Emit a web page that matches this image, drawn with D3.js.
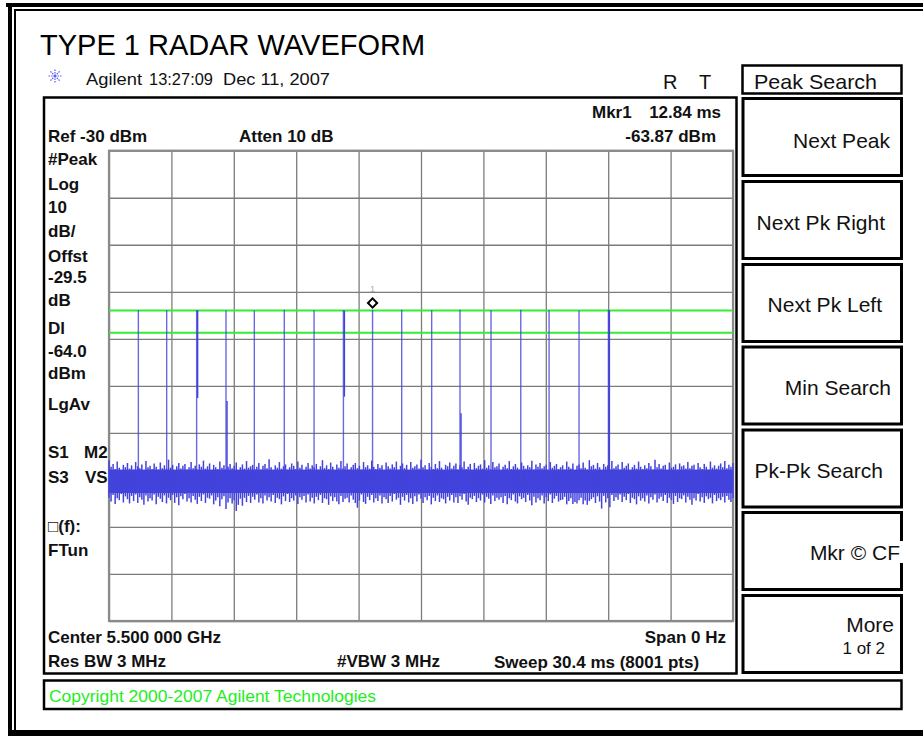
<!DOCTYPE html>
<html><head><meta charset="utf-8">
<script src="https://cdn.jsdelivr.net/npm/d3@7/dist/d3.min.js"></script>
<style>
html,body{margin:0;padding:0;background:#fff;}
svg{display:block;}
text{font-family:"Liberation Sans",Arial,Helvetica,sans-serif;}
</style>
</head><body>
<svg id="c" width="923" height="736"></svg>
<script>
// ---------------- DATA ----------------
const sweepMs = 30.4;                    // x span (ms)
const refLevel = -30, dbPerDiv = 10;     // y scale
const gridTimes = [0, 3.04, 6.08, 9.12, 12.16, 15.2, 18.24, 21.28, 24.32, 27.36, 30.4];
const gridLevels = [-30, -40, -50, -60, -70, -80, -90, -100, -110, -120, -130];
const displayLines = [-64.0, -68.7];

// radar pulses (time ms, peak dBm)
const pulseTimes = [1.43, 2.81, 4.27, 5.70, 7.08, 8.54, 9.99, 11.42, 12.84, 14.26, 15.72, 17.10, 18.61, 20.06, 21.44, 22.90, 24.33];
const pulsePeaks = [-63.9, -63.9, -63.9, -64.0, -64.0, -63.8, -63.9, -63.9, -63.87, -63.8, -63.9, -63.8, -63.9, -63.8, -63.9, -64.0, -63.8];
// second (adjacent) trace column of the wider pulses: upper / lower dBm
const pulseWideHi = [null, null, -63.9, -83.2, null, null, null, -64.0, null, null, null, -85.8, null, null, null, null, -63.9];
const pulseWideLo = [null, null, -82.6, -100.3, null, null, null, -82.3, null, null, null, -100.3, null, null, null, null, -100.3];

// noise floor
const noiseCenter = -100.3;
const noiseBody = [-97.8, -102.8];
const noiseStep = 0.1; // ms between envelope readings
const noiseHi = [
-95.8,-97.2,-96.6,-97.7,-96.1,-97.4,-97.9,-96.8,-97.3,-96.4,
-97.6,-96.9,-97.8,-96.2,-97.1,-97.5,-96.7,-97.9,-96.0,-97.3,
-97.0,-97.7,-96.5,-97.2,-97.8,-96.3,-97.5,-96.9,-97.6,-95.7,
-97.4,-96.8,-97.9,-97.1,-96.4,-97.6,-97.0,-96.6,-97.8,-97.3,
-96.2,-97.5,-97.0,-97.8,-96.7,-97.2,-95.9,-97.6,-97.1,-96.5,
-97.9,-96.8,-97.3,-97.7,-96.1,-97.4,-96.9,-97.8,-97.2,-96.6,
-97.5,-97.0,-96.3,-97.9,-97.3,-96.7,-97.6,-96.0,-97.4,-97.1,
-96.8,-97.7,-97.2,-96.4,-97.8,-97.0,-96.6,-97.5,-95.6,-97.3,
-97.9,-96.9,-97.4,-96.2,-97.6,-97.1,-96.7,-97.8,-97.3,-96.5,
-97.0,-97.7,-96.1,-97.4,-96.8,-97.9,-97.2,-96.4,-97.6,-96.9,
-97.3,-96.6,-97.8,-97.1,-95.8,-97.5,-96.9,-97.7,-96.3,-97.2,
-97.9,-96.7,-97.4,-96.0,-97.6,-97.1,-96.5,-97.8,-97.3,-96.8,
-96.4,-97.5,-97.0,-97.8,-96.2,-97.3,-96.9,-97.6,-95.9,-97.2,
-97.7,-96.6,-97.4,-96.9,-97.9,-96.3,-97.1,-97.6,-96.7,-97.3,
-96.1,-97.8,-97.0,-96.5,-97.5,-96.8,-97.9,-96.2,-97.4,-97.1,
-96.7,-97.6,-95.7,-97.3,-96.9,-97.8,-96.4,-97.2,-97.7,-96.6,
-97.5,-96.0,-97.4,-97.9,-96.8,-97.1,-96.3,-97.6,-97.0,-96.5,
-97.8,-96.9,-97.3,-96.1,-97.7,-97.2,-96.6,-97.9,-96.4,-97.5,
-97.0,-96.7,-97.6,-95.8,-97.4,-96.9,-97.8,-96.2,-97.3,-97.1,
-96.5,-97.9,-97.2,-96.8,-97.5,-96.0,-97.7,-97.1,-96.6,-97.4,
-97.8,-96.3,-97.0,-97.6,-96.9,-97.3,-95.9,-97.8,-96.7,-97.2,
-96.4,-97.5,-97.1,-96.8,-97.9,-96.2,-97.4,-97.0,-96.6,-97.7,
-97.3,-96.9,-97.8,-96.1,-97.2,-97.6,-96.5,-97.9,-97.0,-96.7,
-97.5,-96.3,-97.4,-97.8,-95.8,-97.1,-96.8,-97.6,-96.4,-97.3,
-97.9,-96.6,-97.2,-96.9,-97.7,-96.0,-97.5,-97.1,-96.7,-97.8,
-96.2,-97.4,-97.0,-96.5,-97.9,-97.3,-96.8,-97.6,-96.1,-97.2,
-97.7,-96.9,-97.5,-96.4,-97.1,-97.8,-95.7,-97.3,-96.6,-97.6,
-97.0,-96.8,-97.9,-96.3,-97.4,-97.2,-96.7,-97.8,-96.5,-97.1,
-96.9,-97.6,-96.2,-97.5,-97.0,-96.8,-97.9,-96.4,-97.3,-97.7,
-96.6,-97.2,-97.8,-96.1,-97.4,-96.9,-97.6,-97.0,-96.5,-97.3,
-96.0,-97.5,-96.8,-97.2,-96.4];
const noiseLo = [
-103.8,-104.6,-103.2,-105.1,-103.9,-104.3,-103.0,-104.8,-103.5,-104.1,
-105.0,-103.4,-104.5,-103.1,-104.9,-103.7,-104.2,-105.3,-103.3,-104.6,
-103.9,-104.4,-103.1,-105.2,-103.6,-104.0,-104.7,-103.3,-105.0,-103.8,
-104.3,-103.2,-104.9,-103.7,-105.4,-103.5,-104.1,-103.0,-104.6,-103.9,
-104.8,-103.4,-104.2,-105.1,-103.6,-104.5,-103.1,-104.9,-103.8,-104.0,
-103.3,-105.2,-104.4,-103.7,-105.6,-104.1,-103.5,-106.2,-104.8,-103.9,
-105.0,-104.3,-106.6,-105.3,-104.0,-105.5,-103.8,-104.7,-103.4,-104.9,
-103.6,-104.2,-103.1,-104.8,-103.9,-105.0,-103.3,-104.4,-103.7,-104.6,
-103.2,-104.9,-103.8,-104.1,-105.2,-103.5,-104.5,-103.0,-104.7,-103.9,
-104.4,-103.3,-105.1,-103.7,-104.2,-103.4,-104.8,-103.1,-104.6,-103.8,
-105.0,-103.6,-104.3,-103.2,-104.9,-103.9,-104.1,-105.3,-103.5,-104.5,
-103.7,-104.6,-105.2,-103.4,-104.7,-104.0,-103.8,-104.8,-103.3,-104.2,
-104.9,-105.9,-104.4,-103.1,-104.7,-105.1,-103.6,-104.3,-103.2,-104.8,
-103.9,-104.5,-103.3,-105.0,-103.7,-104.1,-104.9,-103.4,-104.6,-103.0,
-104.2,-103.8,-105.3,-103.6,-104.4,-103.2,-104.8,-103.9,-105.1,-103.5,
-104.6,-103.1,-104.0,-104.9,-103.7,-104.3,-103.4,-105.2,-103.8,-104.5,
-103.3,-104.7,-103.9,-104.1,-105.0,-103.6,-104.4,-103.2,-104.8,-103.7,
-104.9,-103.5,-104.2,-103.0,-104.6,-105.3,-103.8,-104.1,-103.4,-104.7,
-103.9,-104.4,-103.1,-104.8,-103.6,-104.0,-105.1,-103.3,-104.5,-103.8,
-104.2,-103.7,-104.9,-103.4,-105.2,-103.9,-104.3,-103.1,-104.6,-105.0,
-103.5,-104.1,-103.8,-104.7,-103.2,-104.4,-105.4,-103.6,-104.8,-103.9,
-104.3,-103.3,-105.0,-103.7,-104.5,-103.1,-104.9,-104.0,-103.4,-104.6,
-104.3,-104.2,-103.6,-105.2,-104.5,-103.9,-105.1,-104.7,-105.0,-104.3,
-103.8,-105.2,-104.4,-105.3,-104.5,-104.1,-103.7,-104.9,-103.5,-104.6,
-106.1,-103.4,-104.8,-103.9,-105.8,-103.2,-104.5,-103.7,-104.2,-103.1,
-104.7,-103.6,-104.3,-103.0,-104.9,-103.8,-104.1,-105.2,-103.5,-104.4,
-103.9,-104.6,-103.3,-105.0,-103.7,-104.2,-103.1,-104.8,-104.0,-103.6,
-104.5,-103.2,-104.9,-103.8,-104.3,-105.1,-103.4,-104.7,-103.9,-104.1,
-103.3,-104.8,-103.6,-104.2,-105.3,-103.9,-104.4,-103.0,-104.6,-103.7,
-104.9,-103.5,-104.1,-103.8,-105.0,-103.2,-104.5,-103.9,-104.3,-103.6,
-104.8,-103.4,-104.2,-104.7,-103.9];

// marker
const markerTime = 12.84, markerLevel = -63.87;

// texts
const title = "TYPE 1 RADAR WAVEFORM";
const headerTexts = ["Agilent", "13:27:09", "Dec 11, 2007"];
const statusTexts = ["R", "T"];
const menuTitle = "Peak Search";
const softKeys = ["Next Peak", "Next Pk Right", "Next Pk Left", "Min Search", "Pk-Pk Search", "Mkr \u00A9 CF", "More"];
const softKeySub = "1 of 2";
const leftLabels = ["#Peak", "Log", "10", "dB/", "Offst", "-29.5", "dB", "Dl", "-64.0", "dBm", "LgAv"];
const copyright = "Copyright 2000-2007 Agilent Technologies";

// ---------------- DRAW ----------------
const svg = d3.select("#c");
svg.append("rect").attr("width", 923).attr("height", 736).attr("fill", "#fff");

// outer frame
const frame = svg.append("g").attr("fill", "#000");
frame.append("rect").attr("x", 6).attr("y", 3).attr("width", 917).attr("height", 4);
frame.append("rect").attr("x", 8).attr("y", 3).attr("width", 4).attr("height", 733);
frame.append("rect").attr("x", 14).attr("y", 9).attr("width", 909).attr("height", 2);
frame.append("rect").attr("x", 14).attr("y", 9).attr("width", 2).attr("height", 722);
frame.append("rect").attr("x", 8).attr("y", 730).attr("width", 915).attr("height", 6);

// title
svg.append("text").attr("x", 40).attr("y", 55).attr("font-size", 29).attr("fill", "#000").text(title);

// Agilent logo
const logo = svg.append("g").attr("transform", "translate(55,76)").attr("stroke", "#5a5aff").attr("stroke-width", 1.2).attr("stroke-dasharray", "1.5,1");
for (let k = 0; k < 8; k++) {
  const a = k * Math.PI / 4;
  logo.append("line").attr("x1", 0).attr("y1", 0).attr("x2", 7 * Math.cos(a)).attr("y2", 7 * Math.sin(a));
}
const hdrX = [86, 149, 223], hdrW = [56, 64, 107];
headerTexts.forEach((t, i) => svg.append("text").attr("x", hdrX[i]).attr("y", 85).attr("font-size", 17)
  .attr("textLength", hdrW[i]).attr("lengthAdjust", "spacingAndGlyphs").attr("fill", "#111").text(t));
[663, 699].forEach((x, i) => svg.append("text").attr("x", x).attr("y", 89).attr("font-size", 20).attr("fill", "#111").text(statusTexts[i]));

// soft key panel
svg.append("rect").attr("x", 742.5).attr("y", 65.5).attr("width", 159).attr("height", 28)
  .attr("fill", "none").attr("stroke", "#000").attr("stroke-width", 2.5);
svg.append("text").attr("x", 754).attr("y", 89).attr("font-size", 21).attr("textLength", 123)
  .attr("lengthAdjust", "spacingAndGlyphs").attr("fill", "#111").text(menuTitle);

const keyTops = [98.5, 181.5, 264.5, 347, 430, 512.5, 595.5];
const keyTextEnd = [890, 885, 882, 891, 883, 900, 894];
const keyTextBase = [148, 230, 312, 395, 478, 560, 632];
keyTops.forEach((y0, i) => {
  svg.append("rect").attr("x", 743).attr("y", y0).attr("width", 158.5).attr("height", 77)
    .attr("fill", "none").attr("stroke", "#000").attr("stroke-width", 3);
});
svg.append("rect").attr("x", 898).attr("y", 541).attr("width", 6).attr("height", 22).attr("fill", "#fff");
softKeys.forEach((t, i) => {
  svg.append("text").attr("x", keyTextEnd[i]).attr("y", keyTextBase[i]).attr("text-anchor", "end")
    .attr("font-size", 21).attr("fill", "#111").text(t);
});
svg.append("text").attr("x", 885).attr("y", 654).attr("text-anchor", "end").attr("font-size", 17).attr("fill", "#111").text(softKeySub);

// main instrument panel
svg.append("rect").attr("x", 44).attr("y", 97.5).attr("width", 692.5).attr("height", 576)
  .attr("fill", "none").attr("stroke", "#000").attr("stroke-width", 2.5);
svg.append("rect").attr("x", 44).attr("y", 680.5).attr("width", 857.5).attr("height", 28.5)
  .attr("fill", "none").attr("stroke", "#000").attr("stroke-width", 2.5);
svg.append("text").attr("x", 49).attr("y", 702).attr("font-size", 17).attr("textLength", 327)
  .attr("lengthAdjust", "spacingAndGlyphs").attr("fill", "#22ee22").text(copyright);

// scales
const plot = {left: 109, right: 733, top: 150.7, bottom: 621};
const x = d3.scaleLinear().domain([0, sweepMs]).range([plot.left, plot.right]);
const y = d3.scaleLinear().domain([refLevel - 10 * dbPerDiv, refLevel]).range([plot.bottom, plot.top]);

// grid via axes
const gx = svg.append("g").attr("transform", `translate(0,${plot.bottom})`)
  .call(d3.axisBottom(x).tickValues(gridTimes).tickSize(-(plot.bottom - plot.top)).tickFormat(""));
const gy = svg.append("g").attr("transform", `translate(${plot.left},0)`)
  .call(d3.axisLeft(y).tickValues(gridLevels).tickSize(-(plot.right - plot.left)).tickFormat(""));
[gx, gy].forEach(g => {
  g.select(".domain").remove();
  g.selectAll(".tick line").attr("stroke", "#7c7c7c").attr("stroke-width", 1.3);
});
svg.append("rect").attr("x", plot.left).attr("y", plot.top).attr("width", plot.right - plot.left)
  .attr("height", plot.bottom - plot.top).attr("fill", "none").attr("stroke", "#8a8a8a").attr("stroke-width", 2.2);

// panel texts (bold)
const bold = (t, xx, yy, anchor) => svg.append("text").attr("x", xx).attr("y", yy).attr("font-size", 17)
  .attr("font-weight", "bold").attr("fill", "#111").attr("text-anchor", anchor || "start").text(t);
bold("Mkr1", 592, 118);
bold("12.84 ms", 721, 118, "end");
bold("-63.87 dBm", 716, 142, "end");
bold("Ref -30 dBm", 48, 142);
bold("Atten 10 dB", 239, 142);
const leftBase = [165, 190, 213, 237, 261.5, 283, 305.5, 334, 356.5, 378.5, 410];
leftLabels.forEach((t, i) => bold(t, 48, leftBase[i]));
bold("S1", 48, 458); bold("M2", 84, 458);
bold("S3", 48, 483); bold("VS", 85, 483);
bold("\u25A1(f):", 48, 532);
bold("FTun", 48, 556);
bold("Center 5.500 000 GHz", 48, 643);
bold("Span 0 Hz", 726, 643, "end");
bold("Res BW 3 MHz", 48, 667);
bold("#VBW 3 MHz", 337, 667);
bold("Sweep 30.4 ms (8001 pts)", 494, 668);

// display lines
const plotG = svg.append("g");
displayLines.forEach(d => plotG.append("line").attr("x1", plot.left).attr("x2", plot.right)
  .attr("y1", y(d)).attr("y2", y(d)).attr("stroke", "#33ee33").attr("stroke-width", 2));

// trace
const trace = "#4343dc";
plotG.append("rect").attr("x", x(0)).attr("width", x(sweepMs) - x(0))
  .attr("y", y(noiseBody[0])).attr("height", y(noiseBody[1]) - y(noiseBody[0])).attr("fill", trace);
plotG.selectAll("line.noise").data(noiseHi).enter().append("line").attr("class", "noise")
  .attr("x1", (d, i) => x(i * noiseStep)).attr("x2", (d, i) => x(i * noiseStep))
  .attr("y1", d => y(d)).attr("y2", (d, i) => y(noiseLo[i]))
  .attr("stroke", trace).attr("stroke-width", 1.5);
// pulses
plotG.selectAll("line.pulse").data(pulseTimes).enter().append("line").attr("class", "pulse")
  .attr("x1", d => x(d)).attr("x2", d => x(d))
  .attr("y1", (d, i) => y(pulsePeaks[i])).attr("y2", y(noiseCenter))
  .attr("stroke", trace).attr("stroke-opacity", 0.8).attr("stroke-width", 1.4);
pulseTimes.forEach((t, i) => {
  if (pulseWideHi[i] === null) return;
  plotG.append("line").attr("x1", x(t) + 1).attr("x2", x(t) + 1)
    .attr("y1", y(pulseWideHi[i])).attr("y2", y(pulseWideLo[i]))
    .attr("stroke", trace).attr("stroke-width", 1.4);
});

// marker
const mx = x(markerTime), my = y(markerLevel) - 7;
plotG.append("path").attr("d", d3.symbol().type(d3.symbolSquare).size(42)())
  .attr("transform", `translate(${mx},${my}) rotate(45)`)
  .attr("fill", "#fff").attr("stroke", "#000").attr("stroke-width", 2);
plotG.append("text").attr("x", mx).attr("y", my - 11).attr("text-anchor", "middle")
  .attr("font-size", 9).attr("fill", "#aaa").text("1");
</script>
</body></html>
